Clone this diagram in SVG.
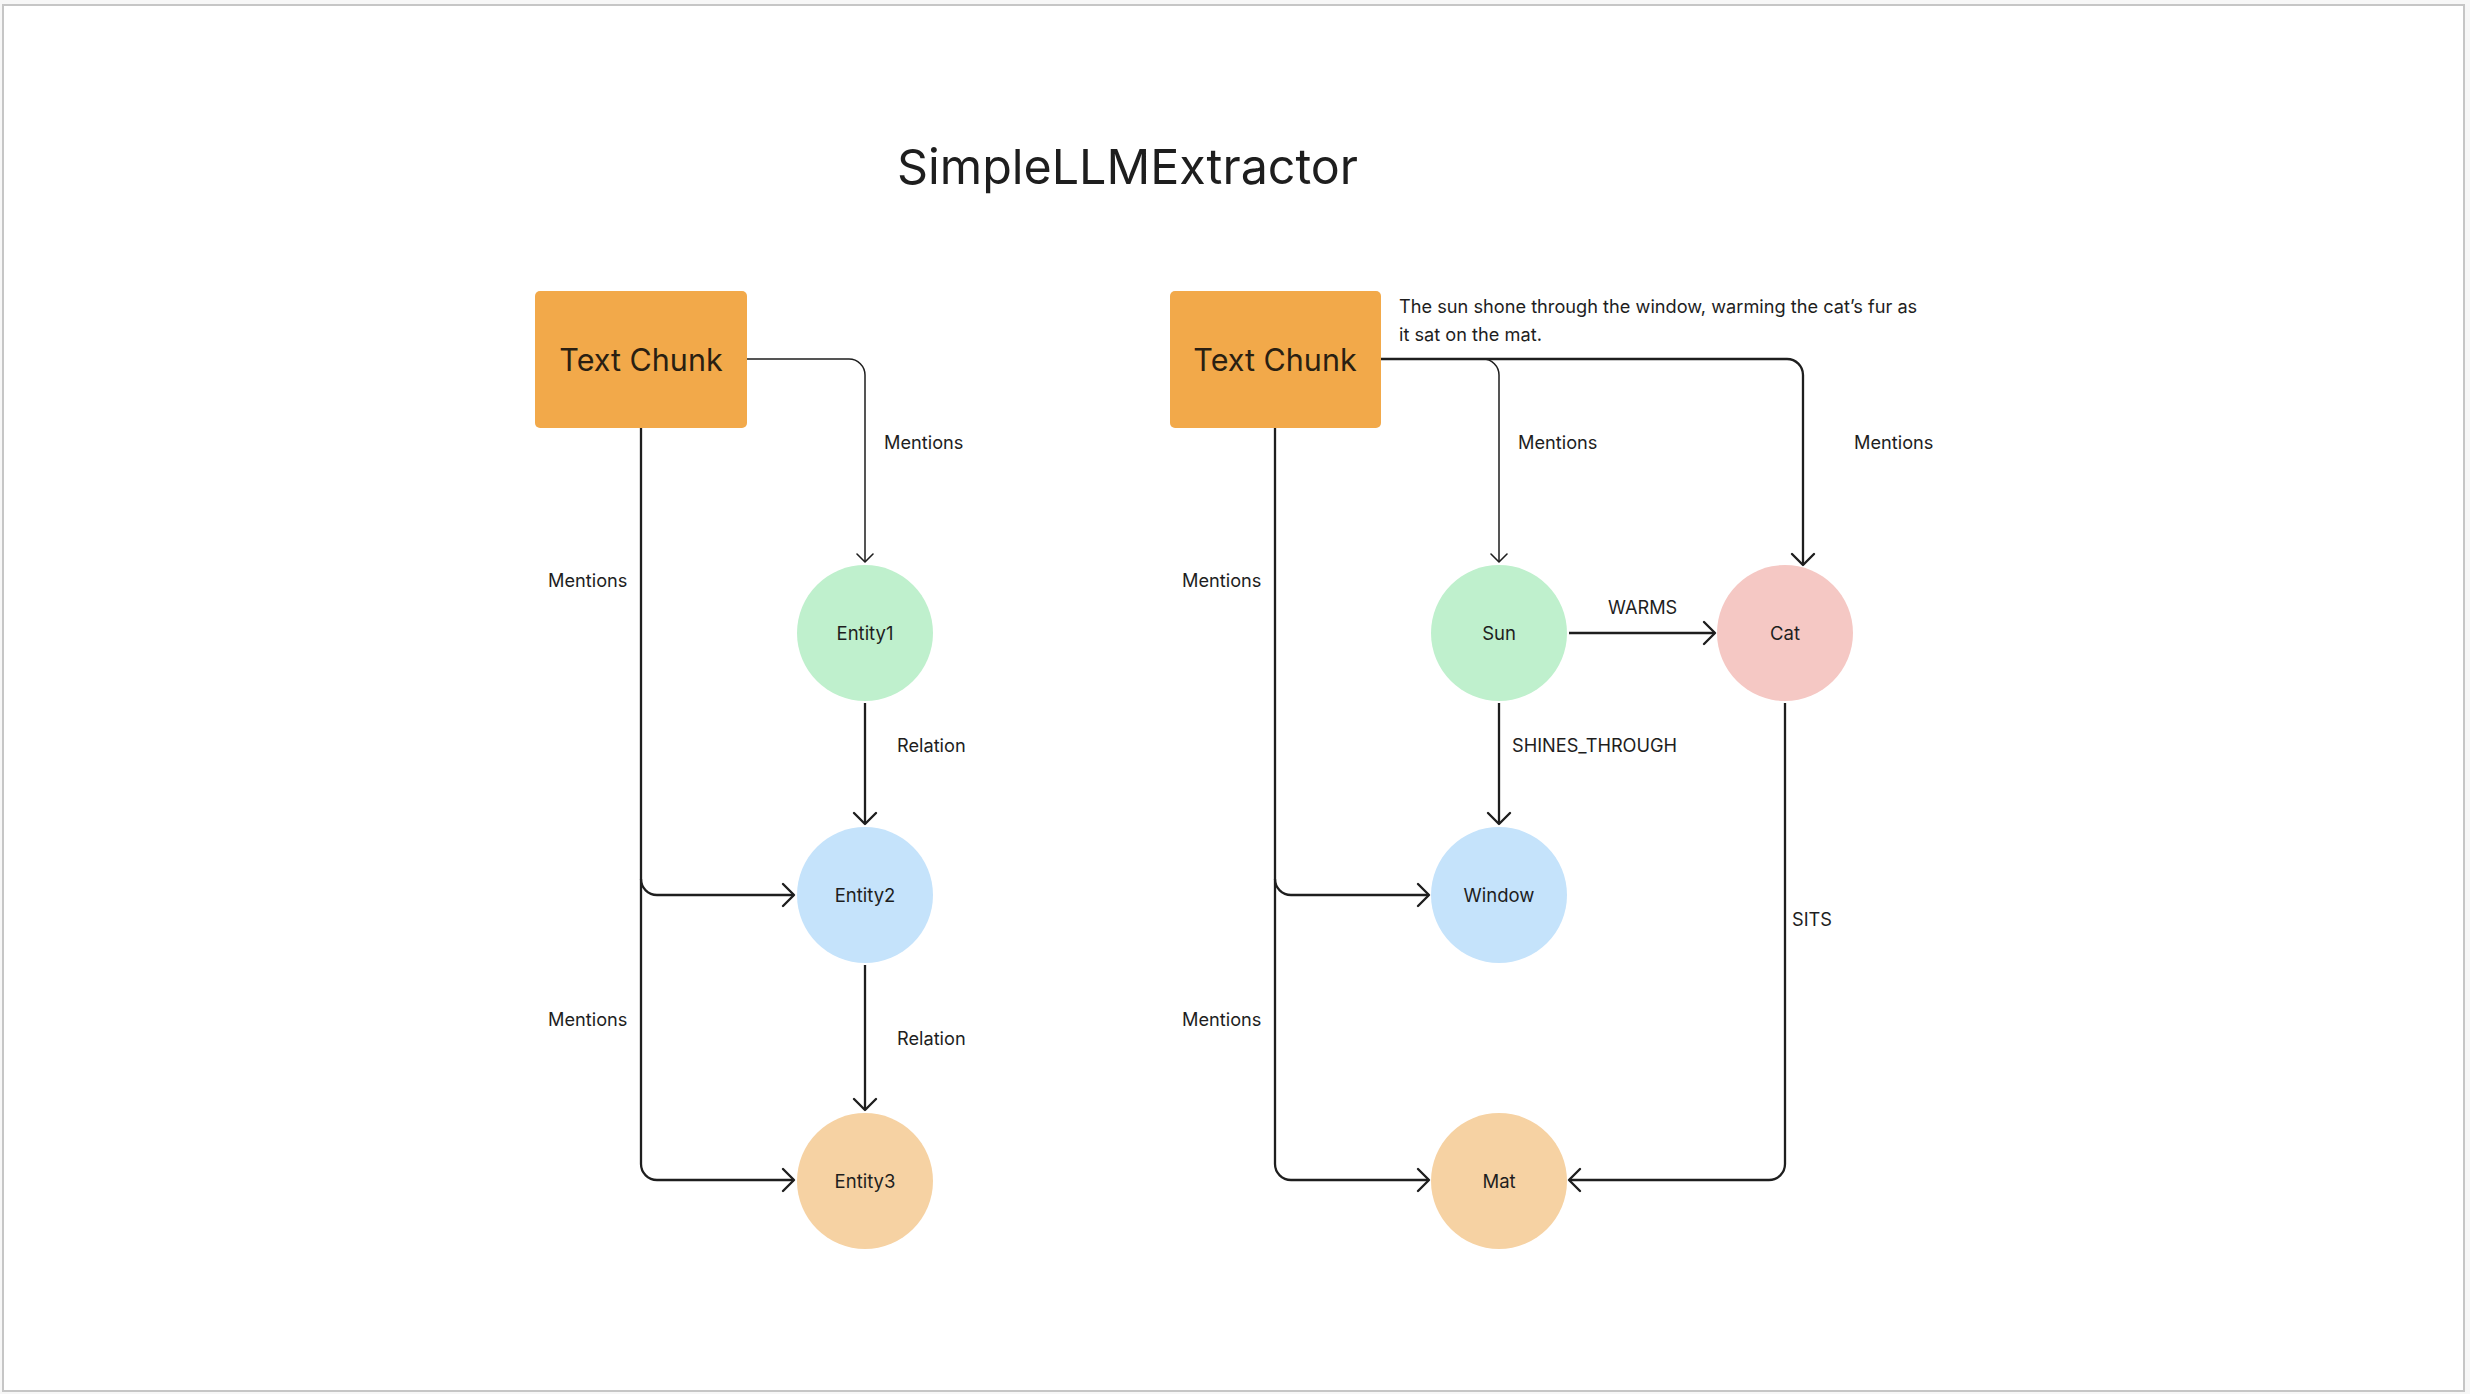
<svg xmlns="http://www.w3.org/2000/svg" width="2470" height="1394" viewBox="0 0 2470 1394">
  <style>
    .lbl { font-family: Inter, "Noto Sans", "Liberation Sans", sans-serif; font-size: 18.2px; fill: #1e1e1e; }
    .node-lbl { font-family: Inter, "Noto Sans", "Liberation Sans", sans-serif; font-size: 18.5px; fill: #1e1e1e; text-anchor: middle; }
    .box-lbl { font-family: Inter, "Noto Sans", "Liberation Sans", sans-serif; font-size: 30.5px; fill: #2a1f12; text-anchor: middle; }
    .title { font-family: Inter, "Noto Sans", "Liberation Sans", sans-serif; font-size: 48.4px; fill: #1e1e1e; }
    .box { fill: #f2a94a; }
    .thick { fill: none; stroke: #1e1e1e; stroke-width: 2.3; marker-end: url(#ahThick); }
    .thin { fill: none; stroke: #1e1e1e; stroke-width: 1.5; marker-end: url(#ahThin); }
  </style>
  <defs>
    <marker id="ahThick" viewBox="-13 -13 15 26" refX="0" refY="0" markerWidth="15" markerHeight="26" markerUnits="userSpaceOnUse" orient="auto">
      <path d="M-11,-11 L0,0 L-11,11" fill="none" stroke="#1e1e1e" stroke-width="2.4" stroke-linecap="round" stroke-linejoin="round"/>
    </marker>
    <marker id="ahThin" viewBox="-10 -10 12 20" refX="0" refY="0" markerWidth="12" markerHeight="20" markerUnits="userSpaceOnUse" orient="auto">
      <path d="M-8,-8 L0,0 L-8,8" fill="none" stroke="#1e1e1e" stroke-width="1.6" stroke-linecap="round" stroke-linejoin="round"/>
    </marker>
  </defs>

  <rect x="0" y="0" width="2470" height="1394" fill="#f7f7f7"/>
  <rect x="3" y="5" width="2461" height="1386" fill="#ffffff" stroke="#c6c6c6" stroke-width="2"/>

  <text class="title" x="897" y="184">SimpleLLMExtractor</text>

  <g id="connectors">
    <!-- left diagram -->
    <path class="thin" d="M747,359 H849 A16,16 0 0 1 865,375 V562"/>
    <path class="thick" d="M641,428 V1164 A16,16 0 0 0 657,1180 H794"/>
    <path class="thick" d="M641,879 A16,16 0 0 0 657,895 H794"/>
    <path class="thick" d="M865,703 V824"/>
    <path class="thick" d="M865,965 V1110"/>
    <!-- right diagram -->
    <path class="thin" d="M1483,359 A16,16 0 0 1 1499,375 V562"/>
    <path class="thick" d="M1381,359 H1787 A16,16 0 0 1 1803,375 V565"/>
    <path class="thick" d="M1275,428 V1164 A16,16 0 0 0 1291,1180 H1429"/>
    <path class="thick" d="M1275,879 A16,16 0 0 0 1291,895 H1429"/>
    <path class="thick" d="M1499,703 V824"/>
    <path class="thick" d="M1569,633 H1715"/>
    <path class="thick" d="M1785,703 V1164 A16,16 0 0 1 1769,1180 H1569"/>

    <text class="lbl" x="884" y="449">Mentions</text>
    <text class="lbl" x="548" y="587">Mentions</text>
    <text class="lbl" x="548" y="1026">Mentions</text>
    <text class="lbl" x="897" y="752">Relation</text>
    <text class="lbl" x="897" y="1045">Relation</text>

    <text class="lbl" x="1518" y="449">Mentions</text>
    <text class="lbl" x="1854" y="449">Mentions</text>
    <text class="lbl" x="1182" y="587">Mentions</text>
    <text class="lbl" x="1182" y="1026">Mentions</text>
    <text class="lbl" x="1608" y="614">WARMS</text>
    <text class="lbl" x="1512" y="752">SHINES_THROUGH</text>
    <text class="lbl" x="1792" y="926">SITS</text>
  </g>

  <g id="chunk-left">
    <rect class="box" x="535" y="291" width="212" height="137" rx="5"/>
    <text class="box-lbl" x="641" y="371">Text Chunk</text>
  </g>
  <g id="entity1">
    <circle cx="865" cy="633" r="68" fill="#bff0cd"/>
    <text class="node-lbl" x="865" y="640">Entity1</text>
  </g>
  <g id="entity2">
    <circle cx="865" cy="895" r="68" fill="#c5e3fb"/>
    <text class="node-lbl" x="865" y="902">Entity2</text>
  </g>
  <g id="entity3">
    <circle cx="865" cy="1181" r="68" fill="#f6d2a3"/>
    <text class="node-lbl" x="865" y="1188">Entity3</text>
  </g>

  <g id="chunk-right">
    <rect class="box" x="1170" y="291" width="211" height="137" rx="5"/>
    <text class="box-lbl" x="1275" y="371">Text Chunk</text>
    <text class="lbl" x="1399" y="313">The sun shone through the window, warming the cat’s fur as</text>
    <text class="lbl" x="1399" y="341">it sat on the mat.</text>
  </g>
  <g id="sun">
    <circle cx="1499" cy="633" r="68" fill="#bff0cd"/>
    <text class="node-lbl" x="1499" y="640">Sun</text>
  </g>
  <g id="cat">
    <circle cx="1785" cy="633" r="68" fill="#f5c8c4"/>
    <text class="node-lbl" x="1785" y="640">Cat</text>
  </g>
  <g id="window">
    <circle cx="1499" cy="895" r="68" fill="#c5e3fb"/>
    <text class="node-lbl" x="1499" y="902">Window</text>
  </g>
  <g id="mat">
    <circle cx="1499" cy="1181" r="68" fill="#f6d2a3"/>
    <text class="node-lbl" x="1499" y="1188">Mat</text>
  </g>
</svg>
